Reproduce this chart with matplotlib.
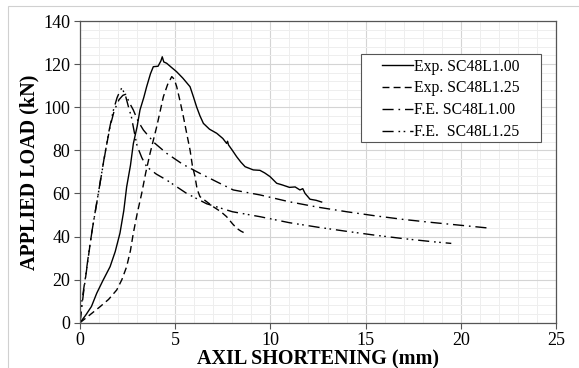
import matplotlib.pyplot as plt
from matplotlib.patches import Rectangle
from matplotlib.ticker import MultipleLocator

plt.rcParams['font.family'] = ['Liberation Serif', 'DejaVu Serif']

# Exp. SC48L1.00 (solid)
exp100_x = [0.0, 0.3, 0.6, 0.88, 1.2, 1.58, 1.85, 2.1, 2.3, 2.45, 2.65, 2.8, 3.0, 3.15, 3.35, 3.5,
            3.7, 3.85, 4.1, 4.25, 4.32, 4.4, 4.55, 4.8, 5.07, 5.4, 5.78, 5.95, 6.13, 6.3, 6.48,
            6.8, 7.18, 7.5, 7.7, 7.75, 7.8, 8.0, 8.23, 8.45, 8.67, 9.1, 9.45, 9.7, 9.98,
            10.33, 10.6, 11.0, 11.3, 11.55, 11.7, 11.82, 12.08, 12.4, 12.69]
exp100_y = [0.0, 3.5, 7.5, 13.7, 19.5, 26.0, 33.0, 41.6, 52.0, 63.0, 73.0, 83.0, 91.0, 98.7, 104.5, 109.5,
            115.5, 118.8, 119.0, 121.5, 123.4, 121.0, 120.4, 118.5, 116.5, 113.5, 109.5, 105.0, 100.0, 96.0, 92.5,
            89.8, 87.9, 85.5, 83.2, 84.2, 82.5, 80.0, 77.0, 74.5, 72.4, 70.9, 70.7, 69.5, 67.8,
            64.7, 64.0, 62.8, 63.0, 61.6, 62.2, 60.0, 57.3, 56.8, 56.0]

# Exp. SC48L1.25 (dashed)
exp125_x = [0.0, 0.5, 1.05, 1.5, 1.93, 2.2, 2.45, 2.65, 2.8, 3.0, 3.24, 3.45, 3.68, 4.03, 4.38, 4.6,
            4.82, 4.95, 5.08, 5.25, 5.43, 5.6, 5.78, 5.9, 6.04, 6.15, 6.3, 6.6, 7.0, 7.4, 7.7,
            8.0, 8.23, 8.45, 8.67]
exp125_y = [0.0, 3.5, 7.4, 10.8, 15.2, 20.0, 26.0, 33.5, 41.5, 50.5, 60.0, 69.5, 78.6, 91.0, 104.9, 110.5,
            114.2, 113.0, 109.5, 103.0, 95.6, 88.0, 80.1, 73.0, 67.8, 62.0, 58.5, 56.5, 53.8, 51.5, 49.2,
            46.0, 43.8, 42.5, 41.5]

# F.E. SC48L1.00 (dash-dot)
fe100_x = [0.0, 0.18, 0.4, 0.61, 0.85, 1.05, 1.3, 1.58, 1.8, 2.05, 2.25, 2.4, 2.6, 2.8, 3.05, 3.33,
           3.9, 4.55, 5.4, 6.3, 7.2, 8.05, 9.45, 11.0, 12.5, 14.0, 15.5, 17.0, 18.5, 20.0, 21.6]
fe100_y = [0.0, 13.6, 28.0, 41.5, 54.0, 64.7, 78.0, 91.0, 98.5, 103.5, 105.5, 106.0, 102.0, 98.7, 93.5, 89.4,
           83.5, 78.6, 73.5, 69.3, 65.3, 61.6, 59.3, 56.1, 53.6, 51.5, 49.6, 47.9, 46.5, 45.2, 43.8]

# F.E. SC48L1.25 (dash-dot-dot)
fe125_x = [0.0, 0.1, 0.3, 0.5, 0.75, 1.0, 1.25, 1.5, 1.75, 1.95, 2.1, 2.2, 2.4, 2.55, 2.7, 2.85,
           3.0, 3.25, 3.5, 4.0, 4.55, 5.6, 6.65, 8.0, 9.45, 11.0, 12.5, 14.0, 15.5, 17.0, 18.5, 19.5]
fe125_y = [0.0, 10.0, 22.0, 35.0, 49.0, 62.0, 75.0, 88.0, 98.5, 104.5, 107.5, 109.0, 105.0, 100.0, 95.5, 88.5,
           82.0, 76.5, 72.4, 69.0, 66.2, 60.0, 55.2, 51.5, 49.2, 46.4, 44.3, 42.4, 40.6, 39.0, 37.6, 36.8]

x_ticks = [0, 5, 10, 15, 20, 25]
y_ticks = [0, 20, 40, 60, 80, 100, 120, 140]

W, H = 579, 368
fig = plt.figure(figsize=(W / 100, H / 100), dpi=100)
# light outer frame of the original figure
fig.patches.append(Rectangle((8 / W, -0.1), 1.2, 1 - 6 / H + 0.1, transform=fig.transFigure,
                             fill=False, edgecolor='#d0d0d0', linewidth=0.8))
ax = fig.add_axes([80 / W, 1 - 322.7 / H, 476 / W, 301.7 / H])

ax.plot(exp100_x, exp100_y, color='black', lw=1.0, label='Exp. SC48L1.00')
ax.plot(exp125_x, exp125_y, color='black', lw=1.0, dashes=(5, 3), label='Exp. SC48L1.25')
ax.plot(fe100_x, fe100_y, color='black', lw=1.0, dashes=(8, 3.5, 1.2, 3.5), label='F.E. SC48L1.00')
ax.plot(fe125_x, fe125_y, color='black', lw=1.0, dashes=(8, 3.5, 1.2, 2.5, 1.2, 3.5),
        label='F.E.  SC48L1.25')

ax.set_xlim(0, 25)
ax.set_ylim(0, 140)
ax.set_xticks(x_ticks)
ax.set_yticks(y_ticks)
ax.xaxis.set_minor_locator(MultipleLocator(1))
ax.yaxis.set_minor_locator(MultipleLocator(4))
ax.grid(which='major', color='#d4d4d4', lw=0.8)
ax.grid(which='minor', color='#eeeeee', lw=0.7)
ax.set_axisbelow(True)
ax.tick_params(which='major', direction='out', length=4, width=0.8, color='#555555',
               labelsize=13, pad=3)
ax.tick_params(which='minor', length=0)
for s in ax.spines.values():
    s.set_color('#555555')
    s.set_linewidth(0.9)

ax.set_ylabel('APPLIED LOAD (kN)', fontsize=14.5, fontweight='bold', labelpad=3)
ax.set_xlabel('AXIL SHORTENING (mm)', fontsize=14.5, fontweight='bold', labelpad=0)

# legend box drawn separately to match the original padding
ax.add_patch(Rectangle(((361 - 80) / 476, (322.7 - 142.3) / 301.7), 180 / 476, 88 / 301.7,
                       transform=ax.transAxes, facecolor='white', edgecolor='#555555',
                       linewidth=0.8, zorder=4))
leg = ax.legend(loc='upper left', bbox_to_anchor=((382 - 80) / 476, (322.7 - 58.5) / 301.7),
                fontsize=11.3, frameon=False, handlelength=2.0, handletextpad=0.05,
                borderpad=0, labelspacing=0.38, borderaxespad=0)
leg.set_zorder(5)

fig.savefig('out.png', dpi=100)
